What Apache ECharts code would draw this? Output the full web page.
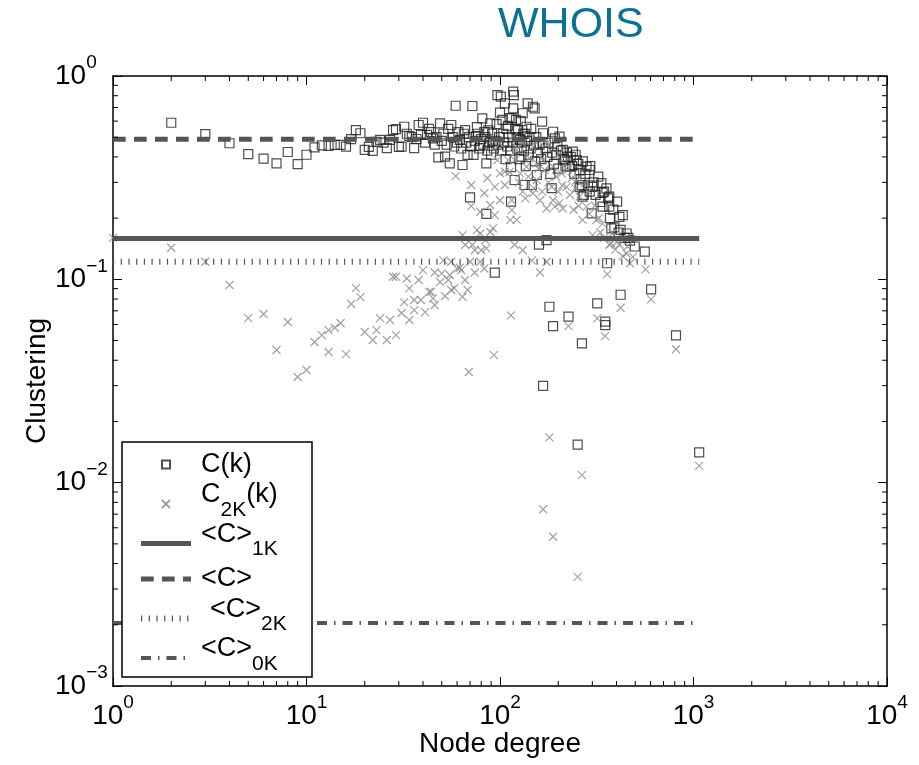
<!DOCTYPE html>
<html>
<head>
<meta charset="utf-8">
<script src="https://cdn.jsdelivr.net/npm/echarts@6/dist/echarts.min.js"></script>
<style>
html, body { margin: 0; background: #fff; }
#chart { width: 919px; height: 765px; }
</style>
</head>
<body>
<div id="chart"></div>
<script>
// C(k): clustering per node degree (squares)
var ck = [
  [2,0.589],[3,0.518],[4,0.467],[5,0.413],[6,0.392],[7,0.372],[8,0.423],[9,0.369],[10,0.410],
  [11,0.446],[12,0.456],[13,0.453],[14,0.458],[15,0.458],[16,0.449],[17,0.489],[18,0.542],[19,0.523],
  [20,0.433],[21,0.448],[22,0.428],[23,0.475],[24,0.485],[25,0.47],[26,0.442],[27,0.485],[28,0.542],
  [29,0.548],[30,0.448],[31,0.449],[32,0.563],[33,0.52],[34,0.507],[35,0.50],[36,0.442],[37,0.49],
  [38,0.574],[39,0.513],[40,0.589],[41,0.47],[42,0.513],[43,0.55],[44,0.53],[45,0.494],[46,0.46],
  [47,0.50],[48,0.398],[49,0.585],[50,0.48],[51,0.52],[52,0.401],[53,0.46],[54,0.55],[55,0.372],
  [56,0.574],[57,0.50],[58,0.45],[59,0.714],[60,0.47],[61,0.53],[62,0.485],[63,0.44],[64,0.365],
  [65,0.52],[66,0.542],[67,0.47],[68,0.409],[69,0.50],[70,0.253],[71,0.45],[72,0.712],[73,0.409],
  [74,0.48],[75,0.503],[76,0.56],[77,0.52],[78,0.44],[79,0.453],[80,0.49],[81,0.619],[82,0.46],
  [83,0.53],[84,0.50],[85,0.372],[85,0.210],[86,0.43],[87,0.54],[88,0.47],[89,0.585],[90,0.41],
  [91,0.52],[92,0.475],[93,0.44],[94,0.108],[95,0.48],[96,0.58],[97,0.806],[98,0.46],[99,0.50],
  [100,0.66],[101,0.791],[102,0.43],[103,0.608],[104,0.52],[105,0.47],[106,0.734],[107,0.39],
  [108,0.55],[109,0.45],[110,0.568],[111,0.50],[112,0.62],[113,0.43],[114,0.356],[114,0.241],
  [115,0.62],[116,0.47],[117,0.838],[117,0.693],[118,0.806],[119,0.308],[120,0.55],[121,0.608],
  [122,0.50],[123,0.44],[124,0.542],[125,0.50],[126,0.39],[127,0.485],[128,0.60],[129,0.401],
  [130,0.47],[131,0.656],[132,0.52],[133,0.43],[134,0.291],[135,0.52],[136,0.36],[137,0.563],
  [138,0.48],[139,0.734],[140,0.41],[142,0.50],[144,0.44],[145,0.55],[146,0.291],[148,0.706],
  [150,0.46],[151,0.693],[152,0.38],[154,0.50],[155,0.326],[157,0.42],[159,0.148],[160,0.46],
  [163,0.39],[165,0.596],[166,0.47],[167,0.523],[167,0.0299],[170,0.36],[172,0.44],[174,0.156],
  [176,0.40],[178,0.47],[180,0.0733],[182,0.33],[185,0.281],[186,0.42],[188,0.532],[188,0.0589],
  [190,0.37],[192,0.494],[195,0.41],[198,0.449],[200,0.35],[203,0.503],[206,0.43],[211,0.433],
  [213,0.39],[216,0.386],[218,0.36],[222,0.42],[224,0.401],[226,0.0655],[229,0.358],[232,0.40],
  [236,0.36],[238,0.425],[242,0.33],[246,0.41],[249,0.386],[252,0.0154],[254,0.37],[258,0.345],
  [258,0.285],[261,0.31],[265,0.291],[265,0.0484],[267,0.255],[268,0.38],[271,0.260],[276,0.33],
  [280,0.358],[285,0.29],[291,0.345],[291,0.270],[293,0.36],[298,0.211],[301,0.285],[305,0.30],
  [312,0.26],[318,0.0762],[322,0.32],[330,0.24],[334,0.297],[339,0.228],[339,0.267],[345,0.27],
  [350,0.0619],[350,0.0596],[355,0.280],[358,0.120],[362,0.25],[367,0.255],[367,0.228],[370,0.20],
  [376,0.178],[385,0.22],[390,0.18],[403,0.241],[410,0.17],[414,0.203],[420,0.0840],[420,0.175],
  [431,0.207],[440,0.16],[451,0.168],[460,0.16],[470,0.155],[497,0.145],[560,0.137],[604,0.0893],
  [812,0.0530],[1070,0.0141]
];

// C2K(k): 2K-random clustering (crosses)
var c2k = [
  [1,0.16],[2,0.143],[3,0.122],[4,0.0938],[5,0.0645],[6,0.0675],[7,0.0449],[8,0.0617],[9,0.0331],
  [10,0.0358],[11,0.0492],[12,0.0532],[13,0.0563],[13,0.0439],[14,0.0578],[15,0.0610],[16,0.0429],
  [17,0.0756],[18,0.0906],[19,0.0818],[20,0.0551],[22,0.0503],[23,0.0563],[24,0.0645],[26,0.0503],
  [27,0.0631],[28,0.103],[29,0.0532],[29,0.103],[31,0.0683],[32,0.0773],[33,0.101],[34,0.0631],
  [34,0.0903],[36,0.0706],[36,0.0791],[38,0.0993],[39,0.0791],[40,0.111],[41,0.0690],[43,0.0867],
  [44,0.0869],[45,0.0806],[46,0.0748],[46,0.108],[49,0.0970],[50,0.107],[51,0.124],[52,0.0828],
  [54,0.0993],[55,0.105],[56,0.122],[56,0.0886],[58,0.0906],[59,0.322],[60,0.113],[62,0.114],
  [63,0.111],[64,0.165],[64,0.0821],[66,0.0993],[66,0.148],[68,0.0886],[69,0.0350],[70,0.122],
  [71,0.291],[71,0.229],[72,0.148],[74,0.139],[74,0.108],[76,0.175],[79,0.122],[79,0.215],
  [79,0.168],[80,0.139],[83,0.265],[83,0.113],[84,0.156],[85,0.142],[86,0.314],[89,0.171],
  [89,0.232],[92,0.178],[93,0.0424],[94,0.207],[94,0.285],[97,0.386],[100,0.245],[100,0.332],
  [100,0.467],[106,0.291],[106,0.338],[110,0.386],[112,0.337],[113,0.196],[114,0.0665],[115,0.219],
  [115,0.245],[117,0.503],[119,0.386],[119,0.148],[122,0.196],[122,0.433],[125,0.30],[127,0.332],
  [131,0.139],[131,0.270],[131,0.467],[135,0.25],[137,0.358],[140,0.32],[142,0.394],[146,0.124],
  [148,0.265],[148,0.449],[150,0.28],[155,0.308],[155,0.372],[158,0.35],[161,0.108],[161,0.245],
  [165,0.27],[167,0.386],[167,0.0074],[170,0.345],[174,0.122],[174,0.223],[174,0.467],[178,0.30],
  [180,0.0167],[185,0.285],[188,0.245],[188,0.358],[188,0.00542],[192,0.228],[195,0.32],[200,0.27],
  [203,0.237],[203,0.416],[208,0.332],[210,0.29],[211,0.223],[216,0.372],[221,0.285],[224,0.345],
  [226,0.0589],[230,0.26],[235,0.314],[240,0.22],[245,0.28],[249,0.308],[252,0.00344],[255,0.23],
  [258,0.255],[265,0.0109],[267,0.196],[274,0.297],[280,0.228],[285,0.270],[290,0.21],[301,0.165],
  [310,0.23],[315,0.196],[318,0.0643],[325,0.20],[330,0.17],[339,0.188],[345,0.16],[349,0.0526],
  [358,0.106],[367,0.148],[375,0.15],[381,0.168],[395,0.14],[403,0.153],[414,0.148],[420,0.0725],
  [430,0.13],[451,0.134],[456,0.145],[470,0.12],[487,0.129],[565,0.112],[604,0.0797],[812,0.0453],
  [1070,0.0121]
];

// average clustering levels, drawn across the degree range
var kRange = [1, 1070];
var c1kAvg = 0.159;
var cAvg = 0.488;
var c2kAvg = 0.122;
var c0kAvg = 0.00204;

var xMin = 1, xMax = 10000;
var yMin = 0.001, yMax = 1;
var xMinor = [2,3,4,5,6,7,8,9,20,30,40,50,60,70,80,90,200,300,400,500,600,700,800,900,
  2000,3000,4000,5000,6000,7000,8000,9000];
var yMinor = [0.002,0.003,0.004,0.005,0.006,0.007,0.008,0.009,0.02,0.03,0.04,0.05,0.06,0.07,0.08,0.09,
  0.2,0.3,0.4,0.5,0.6,0.7,0.8,0.9];

var names = ['C(k)', 'C2K(k)', '<C>1K', '<C>', '<C>2K', '<C>0K'];
var legendText = {
  'C(k)': '{c|C(k)}',
  'C2K(k)': '{a|C}{s|2K}{m|(k)}',
  '<C>1K': '{a|<C>}{s|1K}',
  '<C>': '{c|<C>}',
  '<C>2K': '{b|<C>}{s|2K}',
  '<C>0K': '{a|<C>}{s|0K}'
};

var FONT = 'Liberation Sans';

function expLabel(v) {
  var e = Math.round(Math.log10(v));
  return '{b|10}{s|' + (e < 0 ? '\u2212' + (-e) : e) + '}';
}
var tickRich = {
  b: { fontSize: 28, lineHeight: 30, fontFamily: FONT, color: '#000' },
  s: { fontSize: 19, lineHeight: 30, fontFamily: FONT, color: '#000', padding: [0, 0, 26, 0] }
};

function axisBase(pos) {
  return {
    type: 'log', logBase: 10, position: pos,
    axisLine: { show: true, onZero: false, lineStyle: { color: '#000', width: 1.5 } },
    axisTick: { show: true, inside: true, length: 9, lineStyle: { color: '#000', width: 1 } },
    splitLine: { show: false }
  };
}

var xBottom = axisBase('bottom');
xBottom.min = xMin; xBottom.max = xMax;
xBottom.name = 'Node degree';
xBottom.nameLocation = 'middle';
xBottom.nameGap = 44;
xBottom.nameMoveOverlap = false;
xBottom.nameTextStyle = { fontSize: 28, fontFamily: FONT, color: '#000' };
xBottom.axisLabel = { margin: 15, formatter: expLabel, rich: tickRich };

var xTop = axisBase('top');
xTop.min = xMin; xTop.max = xMax;
xTop.axisLabel = { show: false };

var yLeft = axisBase('left');
yLeft.min = yMin; yLeft.max = yMax;
yLeft.name = 'Clustering';
yLeft.nameLocation = 'middle';
yLeft.nameGap = 62;
yLeft.nameMoveOverlap = false;
yLeft.nameTextStyle = { fontSize: 28, fontFamily: FONT, color: '#000' };
yLeft.axisLabel = { margin: 58, align: 'left', formatter: expLabel, rich: tickRich };

var yRight = axisBase('right');
yRight.min = yMin; yRight.max = yMax;
yRight.axisLabel = { show: false };

function minorXTick(params, api) {
  var p = api.coord([api.value(0), yMin]);
  var q = api.coord([api.value(0), yMax]);
  return {
    type: 'group', children: [
      { type: 'line', shape: { x1: p[0], y1: p[1], x2: p[0], y2: p[1] - 5 }, style: { stroke: '#000', lineWidth: 1 } },
      { type: 'line', shape: { x1: q[0], y1: q[1], x2: q[0], y2: q[1] + 5 }, style: { stroke: '#000', lineWidth: 1 } }
    ]
  };
}
function minorYTick(params, api) {
  var p = api.coord([xMin, api.value(1)]);
  var q = api.coord([xMax, api.value(1)]);
  return {
    type: 'group', children: [
      { type: 'line', shape: { x1: p[0], y1: p[1], x2: p[0] + 5, y2: p[1] }, style: { stroke: '#000', lineWidth: 1 } },
      { type: 'line', shape: { x1: q[0], y1: q[1], x2: q[0] - 5, y2: q[1] }, style: { stroke: '#000', lineWidth: 1 } }
    ]
  };
}

function level(name, v, style) {
  return {
    name: name, type: 'line',
    data: [[kRange[0], v], [kRange[1], v]],
    symbol: 'none', silent: true, z: 3,
    itemStyle: { color: 'transparent', borderColor: 'transparent', opacity: 0 },
    lineStyle: style
  };
}

// legend rows: every token has the same height, padding moves text up (main) or down (subscript)
var legRich = {
  c: { fontSize: 27, height: 19, lineHeight: 37, fontFamily: FONT, padding: [9, 0, 9, 5] },
  a: { fontSize: 27, height: 19, lineHeight: 37, fontFamily: FONT, padding: [0, 0, 18, 5] },
  b: { fontSize: 27, height: 19, lineHeight: 37, fontFamily: FONT, padding: [0, 0, 18, 14] },
  m: { fontSize: 27, height: 19, lineHeight: 37, fontFamily: FONT, padding: [0, 0, 18, 0] },
  s: { fontSize: 21, height: 19, lineHeight: 37, fontFamily: FONT, padding: [15, 0, 3, 0] }
};

var chart = echarts.init(document.getElementById('chart'), null, { renderer: 'canvas' });
chart.setOption({
  animation: false,
  backgroundColor: '#fff',
  textStyle: { fontFamily: FONT },
  title: {
    text: 'WHOIS', left: 498, top: 4, padding: 0,
    textStyle: { fontSize: 43, fontWeight: 'normal', color: '#0d7291', fontFamily: FONT }
  },
  grid: { left: 113, top: 76, width: 774, height: 610, outerBoundsMode: 'none', containLabel: false },
  xAxis: [xBottom, xTop],
  yAxis: [yLeft, yRight],
  // white framed box behind the legend, it hides the lines that run under it
  graphic: [{
    type: 'rect', zlevel: 1, z: 1, silent: true,
    shape: { x: 122, y: 442, width: 190, height: 235 },
    style: { fill: '#fff', stroke: '#000', lineWidth: 1.5 }
  }],
  legend: {
    orient: 'vertical', left: 122, top: 442, zlevel: 1, z: 10,
    padding: [4, 26, 0, 16],
    itemWidth: 50, itemHeight: 8, itemGap: -1.5,
    selectedMode: false,
    data: [
      { name: names[0], icon: 'path://M0,0H10V10H0Z' },
      { name: names[1] },
      { name: names[2] },
      { name: names[3] },
      { name: names[4] },
      { name: names[5] }
    ],
    lineStyle: { width: 'inherit' },
    formatter: function (n) { return legendText[n]; },
    textStyle: { color: '#000', fontFamily: FONT, rich: legRich }
  },
  series: [
    {
      name: 'C(k)', type: 'scatter', data: ck, z: 2, silent: true,
      symbol: 'rect', symbolSize: 9,
      itemStyle: { color: 'transparent', borderColor: '#222', borderWidth: 1.2 }
    },
    {
      name: 'C2K(k)', type: 'scatter', data: c2k, z: 2, silent: true,
      symbol: 'path://M0,0L10,10M10,0L0,10', symbolSize: 8,
      itemStyle: { color: 'transparent', borderColor: '#8a8a8a', borderWidth: 1.2 }
    },
    level('<C>1K', c1kAvg, { color: '#555', width: 5, type: 'solid' }),
    level('<C>', cAvg, { color: '#555', width: 5, type: [12.7, 8.3] }),
    level('<C>2K', c2kAvg, { color: '#555', width: 6, type: [1.2, 6.5] }),
    level('<C>0K', c0kAvg, { color: '#555', width: 4, type: [10, 7, 1.5, 7] }),
    {
      type: 'custom', silent: true, z: 5,
      data: xMinor.map(function (v) { return [v, yMin]; }),
      renderItem: minorXTick
    },
    {
      type: 'custom', silent: true, z: 5,
      data: yMinor.map(function (v) { return [xMin, v]; }),
      renderItem: minorYTick
    }
  ]
});
</script>
</body>
</html>
